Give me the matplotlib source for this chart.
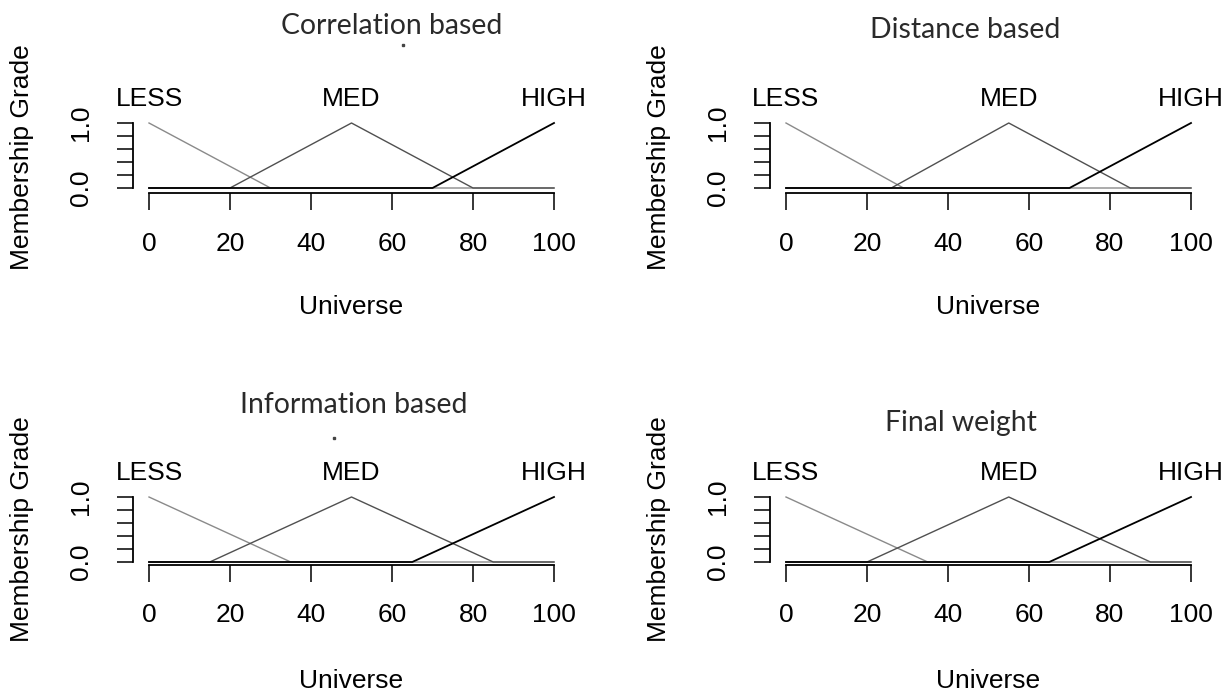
import matplotlib
matplotlib.use("Agg")
from matplotlib import pyplot as plt
from matplotlib.lines import Line2D

plt.rcParams['font.family'] = ['Liberation Sans', 'DejaVu Sans']

# panel data (fuzzy sets over universe 0..100)
titles = ["Correlation based", "Distance based", "Information based", "Final weight"]
less_end = [30, 29, 35, 35]            # LESS: 1 at 0, falls to 0 here
med_start = [20, 26, 15, 20]
med_peak = [50, 55, 50, 55]
med_end = [80, 85, 85, 90]
high_start = [70, 70, 65, 65]          # HIGH: 0 here, rises to 1 at 100
set_names = ["LESS", "MED", "HIGH"]
x_ticks = [0, 20, 40, 60, 80, 100]
y_ticks = [0.0, 0.2, 0.4, 0.6, 0.8, 1.0]
y_ticklabels = ["0.0", "", "", "", "", "1.0"]

W, H = 1224, 693
fig = plt.figure(figsize=(W / 100, H / 100), dpi=100)

# layout in pixels: where data x=0 sits, where data y=0 sits
x0_px = [149, 786, 149, 786]
y0_px = [188, 188, 562, 562]
y_low = [-0.075, -0.075, -0.04, -0.04]
px_x = 4.05   # pixels per universe unit
px_y = 65.0   # pixels per membership unit

title_xy = [(392, 26), (965, 30), (354, 405), (961, 423)]
dots_xy = [(403, 45), (334, 438)]

fs = 19
for i in range(4):
    left_px = x0_px[i] - 4 * px_x
    bot_px = y0_px[i] - y_low[i] * px_y
    top_px = y0_px[i] - 1.04 * px_y
    w_px = 108 * px_x
    ax = fig.add_axes([left_px / W, 1 - bot_px / H, w_px / W, (bot_px - top_px) / H])
    ax.set_xlim(-4, 104)
    ax.set_ylim(y_low[i], 1.04)

    less_x = [0, less_end[i], 100]
    less_y = [1, 0, 0]
    med_x = [0, med_start[i], med_peak[i], med_end[i], 100]
    med_y = [0, 0, 1, 0, 0]
    high_x = [0, high_start[i], 100]
    high_y = [0, 0, 1]
    ax.plot(less_x, less_y, color='#8a8a8a', lw=1.0, clip_on=False)
    ax.plot(med_x, med_y, color='#505050', lw=1.0, clip_on=False)
    ax.plot(high_x, high_y, color='black', lw=1.3, clip_on=False)

    label_x = [0, med_peak[i], 100]
    for name, lx in zip(set_names, label_x):
        ax.text(lx, 1.37, name, ha='center', va='center', fontsize=fs, clip_on=False)

    for s in ['top', 'right']:
        ax.spines[s].set_visible(False)
    ax.spines['bottom'].set_bounds(0, 100)
    ax.spines['left'].set_bounds(0, 1)
    ax.spines['bottom'].set_linewidth(1.3)
    ax.spines['left'].set_linewidth(1.3)

    ax.set_xticks(x_ticks)
    ax.set_xticklabels([str(t) for t in x_ticks])
    ax.set_yticks(y_ticks)
    ax.set_yticklabels(y_ticklabels)
    ax.tick_params(axis='x', length=12, width=1.1, pad=16, labelsize=fs)
    ax.tick_params(axis='y', length=11.5, width=1.1, pad=17, labelsize=fs, labelrotation=90)
    for lab in ax.get_yticklabels():
        lab.set_va('center')

    fig.text((left_px + w_px / 2) / W, 1 - (y0_px[i] + 119) / H, "Universe",
             ha='center', va='center', fontsize=fs)
    fig.text((left_px - 111) / W, 1 - ((bot_px + top_px) / 2) / H, "Membership Grade",
             ha='center', va='center', rotation=90, fontsize=fs)

    tx, ty = title_xy[i]
    fig.text(tx / W, 1 - ty / H, titles[i], ha='center', va='center',
             fontsize=20.4, color='#2a2a2a', family=['Lato', 'DejaVu Sans'])

# small stray dots under two of the titles
for dx, dy in dots_xy:
    fig.add_artist(Line2D([dx / W], [1 - dy / H], marker='s', markersize=1.5,
                          color='#444444', transform=fig.transFigure))

fig.savefig("out.png", dpi=100)
